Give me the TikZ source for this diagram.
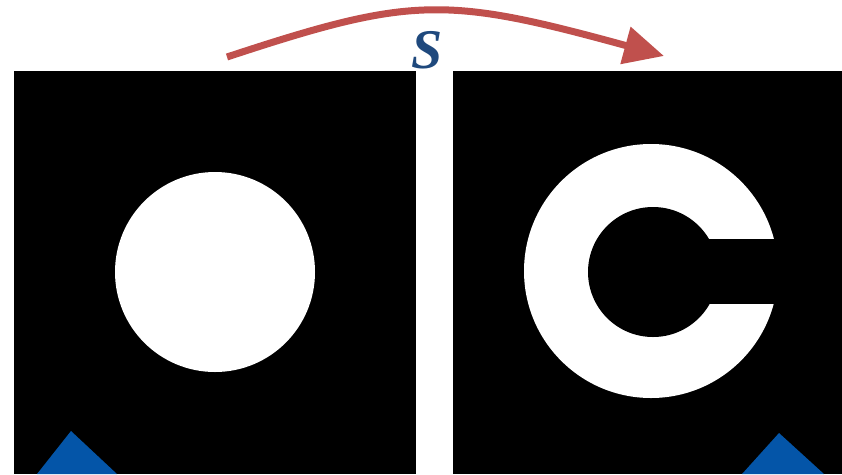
\documentclass[tikz,border=0pt]{standalone}
\usepackage{fontspec}
\setmainfont{Liberation Serif}
\usetikzlibrary{arrows.meta}
\definecolor{arrowred}{HTML}{C0504D}
\definecolor{labelblue}{HTML}{1F497D}
\definecolor{markblue}{HTML}{0455A8}

\begin{document}
\begin{tikzpicture}[x=1pt, y=-1pt]
\useasboundingbox (0,0) rectangle (842,474);
\tikzset{panel/.style={fill=black}, marker/.style={fill=markblue}}
% left panel: disc
\fill[panel] (14,71) rectangle (416,474); \fill[white] (215,272) circle (100);
\fill[marker] (37,474) -- (71,431) -- (117,474) -- cycle;
% right panel: ring with a gap
\fill[panel] (453,71) rectangle (842,474); \fill[white] (651,271) circle (127);
\fill[black] (653,272) circle (65); \fill[black] (653,239) rectangle (790,304);
\fill[marker] (742,474) -- (779,433) -- (824,474) -- cycle;
% the map
\coordinate (src) at (227,57); \coordinate (dst) at (664,56);
\draw[arrowred, line width=7pt, -{Triangle[length=40pt, width=37pt]}] (src) .. controls (412,-4) and (445,-4) .. (dst);
\node[text=labelblue, font=\fontsize{56}{56}\selectfont\bfseries\itshape] (lbl) at (427,50) {S};
\end{tikzpicture}
\end{document}
